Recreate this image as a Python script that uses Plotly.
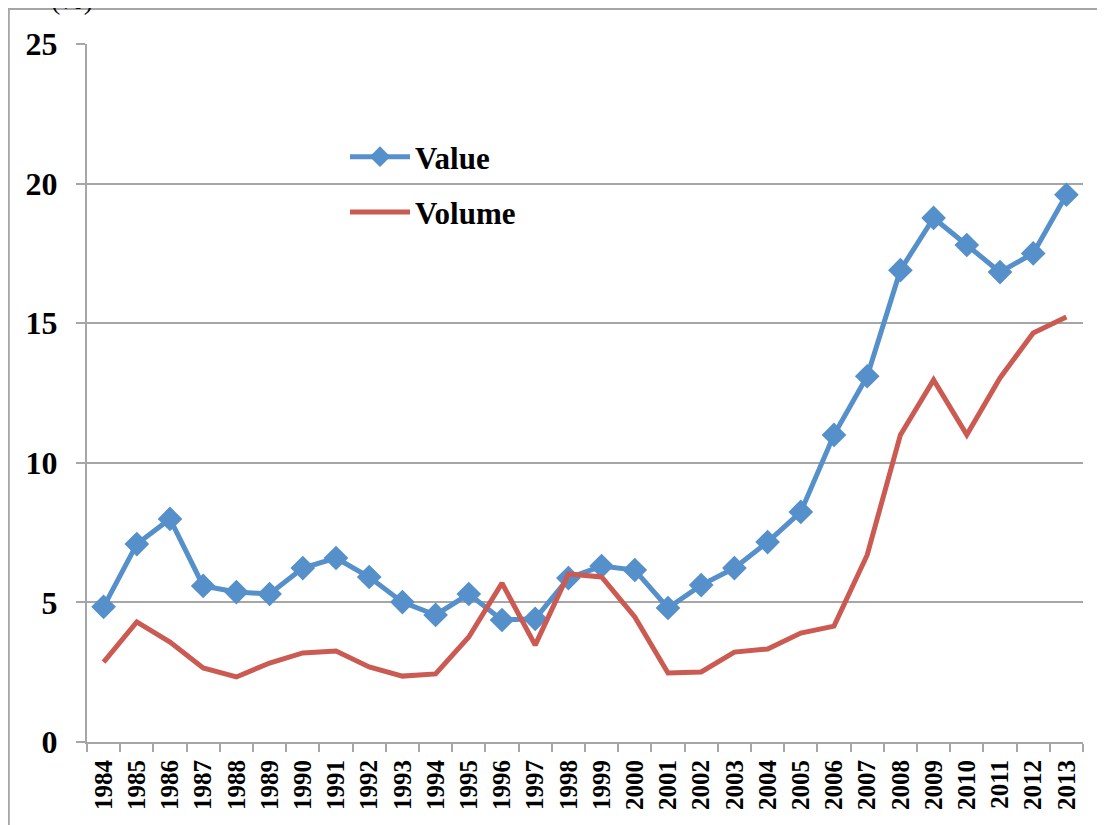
import plotly.graph_objects as go

years = [str(y) for y in range(1984, 2014)]
value = [4.84, 7.09, 7.99, 5.59, 5.37, 5.30, 6.23, 6.59, 5.91, 5.01,
         4.55, 5.30, 4.37, 4.41, 5.87, 6.30, 6.16, 4.80, 5.62, 6.23,
         7.16, 8.24, 11.0, 13.1, 16.9, 18.77, 17.8, 16.83, 17.5, 19.6]
volume = [2.86, 4.30, 3.58, 2.65, 2.33, 2.83, 3.19, 3.26, 2.69, 2.36,
          2.44, 3.76, 5.69, 3.47, 6.02, 5.91, 4.48, 2.47, 2.51, 3.22,
          3.33, 3.90, 4.15, 6.70, 11.0, 12.97, 11.0, 13.04, 14.65, 15.22]
y_ticks = [0, 5, 10, 15, 20, 25]

FONT = "Liberation Serif"
GRID = "#A6A6A6"

fig = go.Figure()
fig.add_trace(go.Scatter(
    x=years, y=value, name="<b>Value</b>", mode="lines+markers", legendgroup="a",
    line=dict(color="#5590CB", width=5),
    marker=dict(symbol="diamond", size=19, color="#5590CB"),
))
fig.add_trace(go.Scatter(
    x=years, y=volume, name="<b>Volume</b>", mode="lines", legendgroup="b",
    line=dict(color="#CB5A52", width=5),
))

# page is offset by the 8px body margin; figure coordinates = page - 8
W, H = 1097, 817
ml, mr, mt, mb = 79, 22, 36, 83
pw, ph = W - ml - mr, H - mt - mb

def px_x(p):
    return (p - ml) / pw

def px_y(p):
    return (H - mb - p) / ph

fig.update_layout(
    width=W, height=H,
    margin=dict(l=ml, r=mr, t=mt, b=mb, pad=0),
    paper_bgcolor="white", plot_bgcolor="white",
    font=dict(family=FONT, color="black"),
    showlegend=True,
    legend=dict(
        x=px_x(337), y=px_y(122), xanchor="left", yanchor="top",
        bgcolor="rgba(0,0,0,0)", font=dict(size=31, family=FONT, color="black"),
        itemwidth=60, tracegroupgap=12,
    ),
    xaxis=dict(
        type="category", range=[-0.5, 29.5],
        showgrid=False, showline=True, linecolor=GRID, linewidth=2,
        ticks="outside", ticklen=8, tickcolor=GRID, tickwidth=2,
        tickson="boundaries", tickangle=-90,
        tickfont=dict(size=25, family=FONT, color="black", weight="bold"),
        ticklabelstandoff=6,
    ),
    yaxis=dict(
        range=[0, 25], tickvals=y_ticks,
        showgrid=True, gridcolor=GRID, gridwidth=2,
        showline=True, linecolor=GRID, linewidth=2,
        ticks="outside", ticklen=9, tickcolor=GRID, tickwidth=2,
        tickfont=dict(size=32, family=FONT, color="black", weight="bold"),
        ticklabelstandoff=12, zeroline=False,
    ),
    shapes=[dict(
        type="rect", xref="paper", yref="paper",
        x0=px_x(0.8), x1=px_x(1110), y0=px_y(830), y1=px_y(1),
        line=dict(color="#A6A6A6", width=2), fillcolor="rgba(0,0,0,0)", layer="below",
    )],
    annotations=[dict(
        text="(%)", xref="paper", yref="paper",
        x=px_x(64), y=px_y(9), xanchor="center", yanchor="bottom",
        showarrow=False, font=dict(size=28, family=FONT, color="black"),
    )],
)

fig.write_html("out.html")
